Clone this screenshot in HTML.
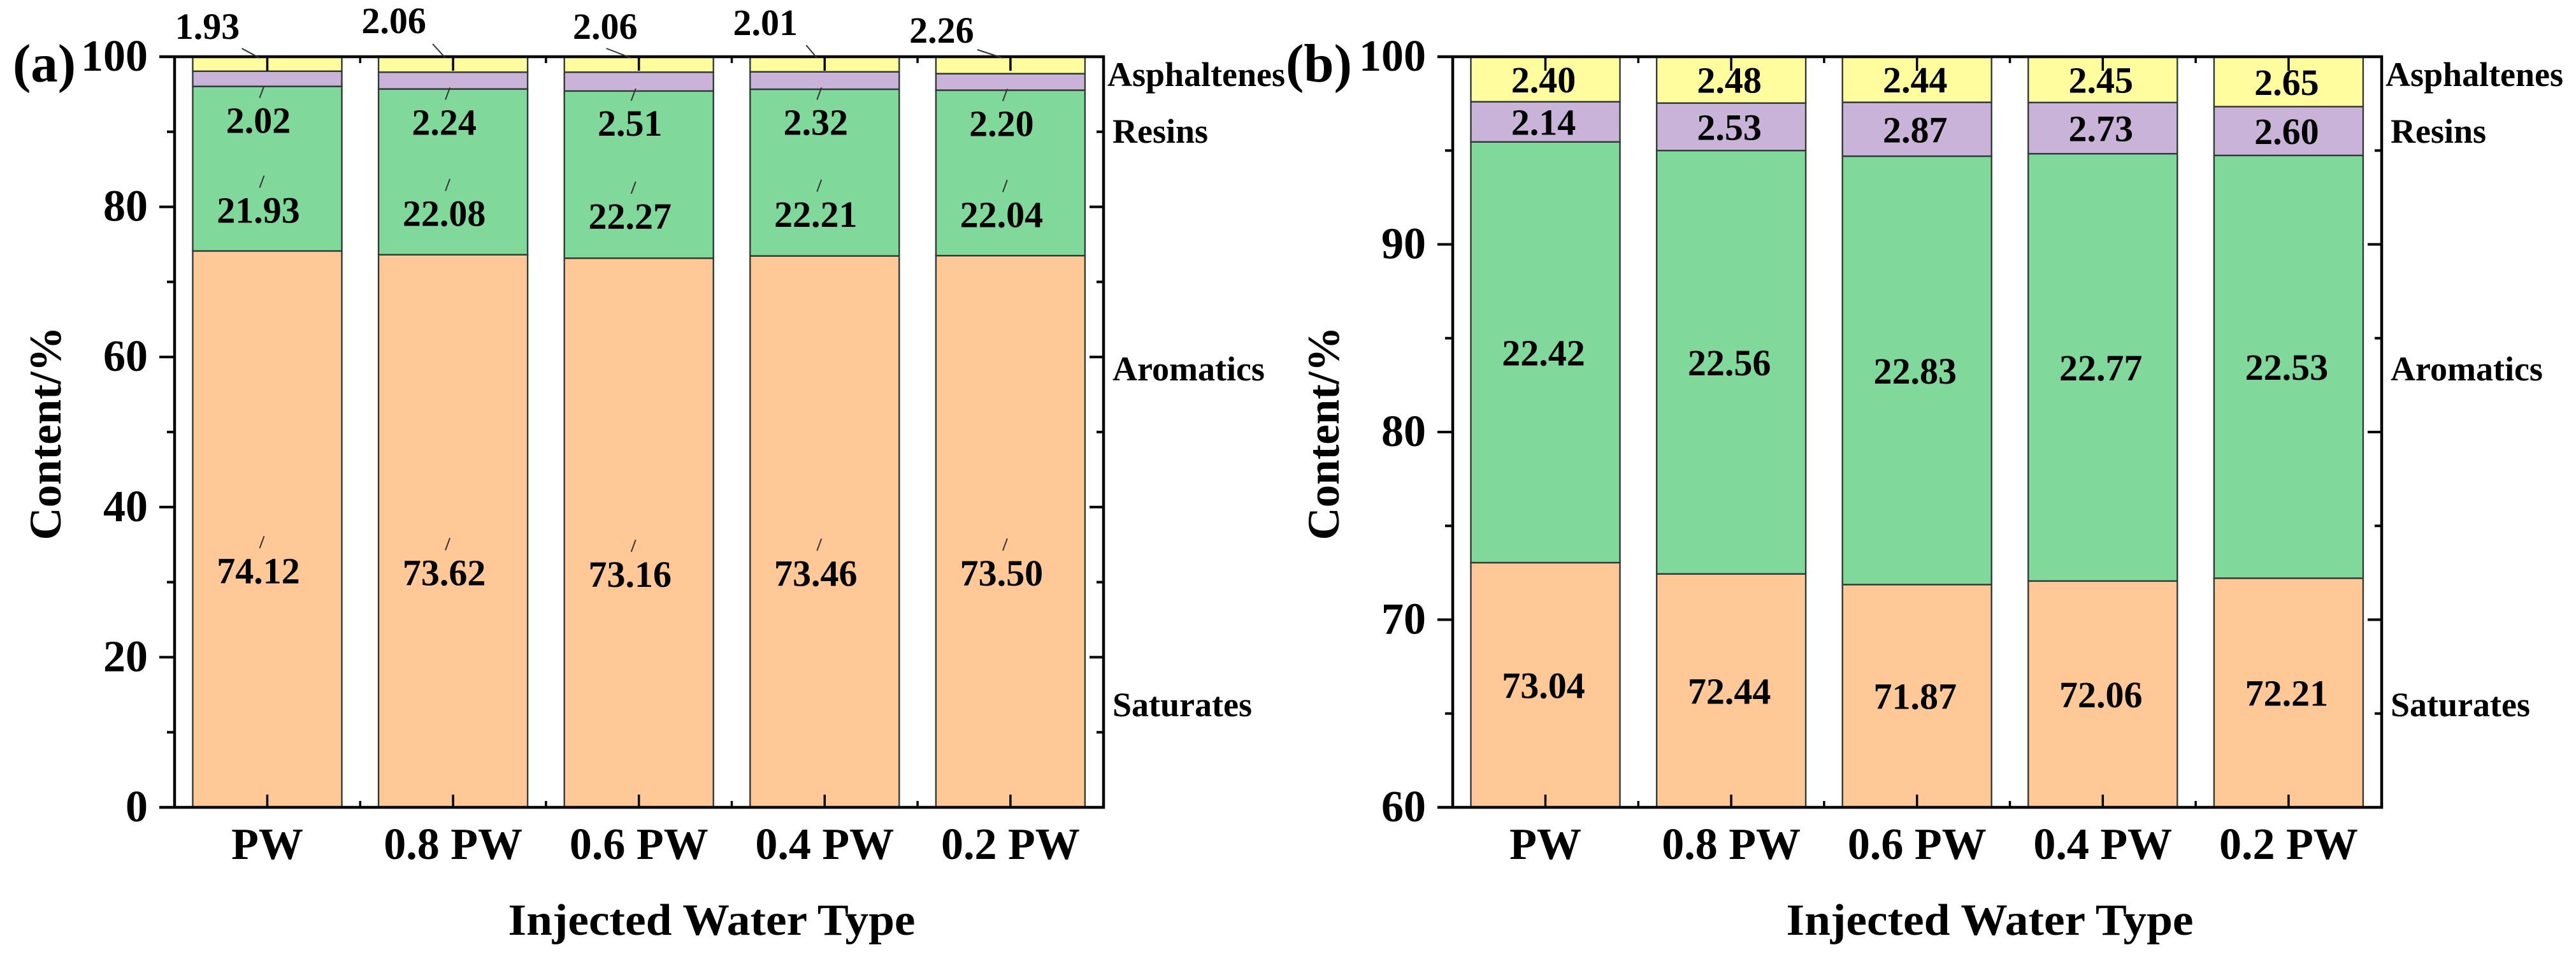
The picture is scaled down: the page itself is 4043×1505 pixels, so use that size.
<!DOCTYPE html>
<html lang="en">
<head>
<meta charset="utf-8">
<title>Stacked SARA content by injected water type</title>
<style>
  html, body { margin: 0; padding: 0; background: #fff; }
  svg { display: block; }
  text { font-family: "Liberation Serif", serif; font-weight: bold; fill: #000; }
</style>
</head>
<body>
<svg id="chart" xmlns="http://www.w3.org/2000/svg" width="4043" height="1505" viewBox="0 0 4043 1505"></svg>
<script>
const categories = ['PW', '0.8 PW', '0.6 PW', '0.4 PW', '0.2 PW'];
const seriesNames = ['Saturates', 'Aromatics', 'Resins', 'Asphaltenes'];

const saturatesA = [74.12, 73.62, 73.16, 73.46, 73.50];
const aromaticsA = [21.93, 22.08, 22.27, 22.21, 22.04];
const resinsA = [2.02, 2.24, 2.51, 2.32, 2.20];
const asphaltenesA = [1.93, 2.06, 2.06, 2.01, 2.26];

const saturatesB = [73.04, 72.44, 71.87, 72.06, 72.21];
const aromaticsB = [22.42, 22.56, 22.83, 22.77, 22.53];
const resinsB = [2.14, 2.53, 2.87, 2.73, 2.60];
const asphaltenesB = [2.40, 2.48, 2.44, 2.45, 2.65];

const yTickLabelsA = [0, 20, 40, 60, 80, 100];
const yTickLabelsB = [60, 70, 80, 90, 100];

const NS = 'http://www.w3.org/2000/svg';
const svg = document.getElementById('chart');
const TOP = 89, BOTTOM = 1267, AXIS_W = 1458;
const BAR_INSET = 28.5, BAR_W = 234, PERIOD = 291.6;
const COLORS = ['#FFC896', '#80D89B', '#C9B3D9', '#FFFD9E'];
const SLUGS = ['saturates', 'aromatics', 'resins', 'asphaltenes'];

// Hand-placed callout layout for the top row of panel (a): offsets from each bar centre.
const calloutShiftX = [-94, -93, -53, -93, -108];
const calloutBaseline = [61, 52, 61, 55, 67];
const calloutRun = [28, 20, 39, 17, 40];
const calloutStartY = [76, 69, 76, 71, 78];

function node(tag, parent, name) {
  const el = document.createElementNS(NS, tag);
  
  
  parent.appendChild(el);
  return el;
}
function line(parent, name, x1, y1, x2, y2, w, color) {
  const el = node('line', parent, name);
  el.setAttribute('x1', x1);
  el.setAttribute('y1', y1);
  el.setAttribute('x2', x2);
  el.setAttribute('y2', y2);
  el.setAttribute('stroke', color || '#000');
  el.setAttribute('stroke-width', w);
  return el;
}
function label(parent, name, x, y, str, size, anchor, rotate) {
  const el = node('text', parent, name);
  el.setAttribute('x', x);
  el.setAttribute('y', y);
  el.setAttribute('font-size', size);
  el.setAttribute('text-anchor', anchor || 'middle');
  if (rotate) el.setAttribute('transform', 'rotate(' + rotate + ' ' + x + ' ' + y + ')');
  el.textContent = str;
  return el;
}

function drawPanel(cfg) {
  const g = node('g', svg, 'panel-' + cfg.id);
  const left = cfg.left, right = left + AXIS_W;
  const yMin = cfg.ticks[0], yMax = cfg.ticks[cfg.ticks.length - 1];
  const yScale = v => BOTTOM - (v - yMin) / (yMax - yMin) * (BOTTOM - TOP);
  const xBar = i => left + BAR_INSET + i * PERIOD;
  const xMid = i => xBar(i) + BAR_W / 2;

  // stacked bars
  const bars = node('g', g, 'stacked-bars-' + cfg.id);
  categories.forEach((cat, i) => {
    let base = 0;
    cfg.series.forEach((values, s) => {
      const start = Math.max(base, yMin), end = base + values[i];
      const r = node('rect', bars, 'bar-' + SLUGS[s] + '-' + cfg.id + '-' + (i + 1));
      r.setAttribute('x', xBar(i));
      r.setAttribute('y', yScale(end));
      r.setAttribute('width', BAR_W);
      r.setAttribute('height', yScale(start) - yScale(end));
      r.setAttribute('fill', COLORS[s]);
      r.setAttribute('stroke', '#2f3a34');
      r.setAttribute('stroke-width', 2.4);
      base = end;
    });
  });

  // axes frame
  const axes = node('g', g, 'axes-' + cfg.id);
  line(axes, 'left-axis-' + cfg.id, left, TOP - 2, left, BOTTOM + 2, 4.5);
  line(axes, 'right-axis-' + cfg.id, right, TOP - 2, right, BOTTOM + 2, 4.5);
  line(axes, 'top-axis-' + cfg.id, left - 24, TOP, right + 2, TOP, 4.5);
  line(axes, 'bottom-axis-' + cfg.id, left - 24, BOTTOM, right + 2, BOTTOM, 4.5);

  // y ticks
  cfg.ticks.forEach((t, k) => {
    const y = yScale(t);
    if (k > 0 && k < cfg.ticks.length - 1) {
      line(axes, 'y-tick-left-' + t + '-' + cfg.id, left - 24, y, left, y, 4);
      line(axes, 'y-tick-right-' + t + '-' + cfg.id, right - 22, y, right, y, 4);
    }
    label(axes, 'y-tick-label-' + t + '-' + cfg.id, left - 42, y + 22, String(t), 70, 'end');
    if (k < cfg.ticks.length - 1) {
      const m = yScale((t + cfg.ticks[k + 1]) / 2);
      line(axes, 'y-minor-tick-left-' + cfg.id, left - 12, m, left, m, 4);
      line(axes, 'y-minor-tick-right-' + cfg.id, right - 11, m, right, m, 4);
    }
  });

  // x ticks
  categories.forEach((cat, i) => {
    const x = xMid(i);
    line(axes, 'x-tick-bottom-' + cfg.id + '-' + (i + 1), x, BOTTOM - 20, x, BOTTOM, 3.5);
    line(axes, 'x-tick-top-' + cfg.id + '-' + (i + 1), x, TOP, x, TOP + 22, 3.5);
    label(axes, 'x-tick-label-' + cfg.id + '-' + (i + 1), x, 1348, cat, 70);
    if (i < categories.length - 1) {
      const mx = x + PERIOD / 2;
      line(axes, 'x-minor-tick-bottom-' + cfg.id, mx, BOTTOM - 10, mx, BOTTOM, 3.5);
      line(axes, 'x-minor-tick-top-' + cfg.id, mx, TOP, mx, TOP + 10, 3.5);
    }
  });

  // value labels
  const vals = node('g', g, 'value-labels-' + cfg.id);
  categories.forEach((cat, i) => {
    let base = 0;
    cfg.series.forEach((values, s) => {
      const start = Math.max(base, yMin), end = base + values[i];
      const seg = yScale((start + end) / 2);
      const text = values[i].toFixed(2);
      const labelName = 'value-label-' + SLUGS[s] + '-' + cfg.id + '-' + (i + 1);
      if (cfg.callouts) {
        if (s === 3) {
          const cx = xMid(i) + calloutShiftX[i];
          label(vals, labelName, cx, calloutBaseline[i], text, 58);
          const ex = xMid(i) - 12;
          line(vals, 'callout-line-' + SLUGS[s] + '-' + (i + 1), ex - calloutRun[i], calloutStartY[i], ex, yScale(end) + 2, 2, '#333');
        } else {
          const cx = xMid(i) - 14;
          const by = seg + 85;
          label(vals, labelName, cx, by, text, 58);
          line(vals, 'callout-line-' + SLUGS[s] + '-' + (i + 1), cx + 2, by - 55, cx + 9, by - 74, 2, '#333');
        }
      } else {
        label(vals, labelName, xMid(i) - 3, seg + 20.5, text, 58);
      }
      base = end;
    });
  });

  // right-side series names
  const names = node('g', g, 'series-names-' + cfg.id);
  label(names, 'series-name-saturates-' + cfg.id, right + 14, 1124, seriesNames[0], 54, 'start');
  label(names, 'series-name-aromatics-' + cfg.id, right + 14, 597, seriesNames[1], 54, 'start');
  label(names, 'series-name-resins-' + cfg.id, right + 14, 224, seriesNames[2], 54, 'start');
  label(names, 'series-name-asphaltenes-' + cfg.id, right + 6, 135, seriesNames[3], 54, 'start');

  // titles
  label(g, 'y-axis-title-' + cfg.id, left - 179, 680, 'Content/%', 71, 'middle', -90);
  const xTitle = label(g, 'x-axis-title-' + cfg.id, left + 843, 1467, 'Injected Water Type', 70);
  xTitle.setAttribute('textLength', 639);
  xTitle.setAttribute('lengthAdjust', 'spacingAndGlyphs');
  label(g, 'panel-label-' + cfg.id, cfg.tagX, 128, cfg.tag, 85, 'start');
}

drawPanel({
  id: 'a', tag: '(a)', tagX: 20, left: 274, ticks: yTickLabelsA, callouts: true,
  series: [saturatesA, aromaticsA, resinsA, asphaltenesA]
});
drawPanel({
  id: 'b', tag: '(b)', tagX: 2018, left: 2280, ticks: yTickLabelsB, callouts: false,
  series: [saturatesB, aromaticsB, resinsB, asphaltenesB]
});
</script>
</body>
</html>
